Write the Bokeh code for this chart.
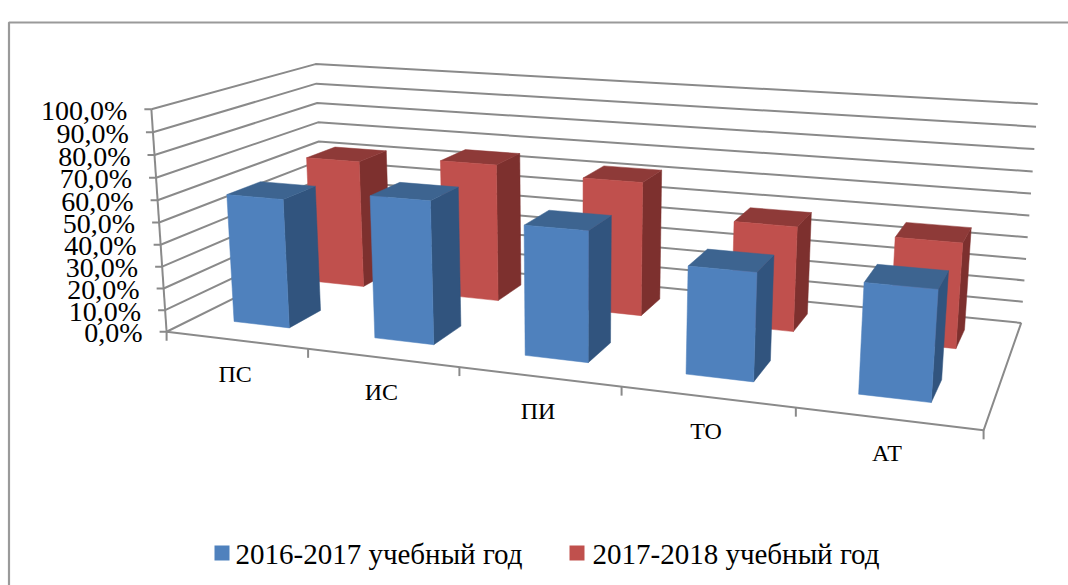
import numpy as np
from bokeh.plotting import figure
from bokeh.models import Range1d
from bokeh.core.properties import value
from bokeh.embed import file_html
from bokeh.resources import INLINE

categories = ["ПС", "ИС", "ПИ", "ТО", "АТ"]
series_names = ["2016-2017 учебный год", "2017-2018 учебный год"]
values_2016 = [59.0, 64.0, 57.0, 46.0, 46.0]
values_2017 = [62.0, 65.5, 62.5, 48.0, 47.0]
value_ticks = [0, 10, 20, 30, 40, 50, 60, 70, 80, 90, 100]
value_labels = ["0,0%", "10,0%", "20,0%", "30,0%", "40,0%", "50,0%",
                "60,0%", "70,0%", "80,0%", "90,0%", "100,0%"]

# Camera: where the corners of the chart's box fall on the page
box = np.array([[0, 0, 0], [0, 0, 100], [0, 1, 0], [0, 1, 100],
                [1, 0, 0], [1, 1, 0], [1, 1, 100]], float)
page = np.array([[167, 330], [150, 109], [322, 255], [316, 63],
                 [983, 431], [1021, 321], [1037, 104]], float)
rows = []
for (a, b, c), (u, v) in zip(box, page):
    rows.append([a, b, c, 1, 0, 0, 0, 0, -u*a, -u*b, -u*c, -u])
    rows.append([0, 0, 0, 0, a, b, c, 1, -v*a, -v*b, -v*c, -v])
camera = np.linalg.svd(np.array(rows))[2][-1].reshape(3, 4)


def project(a, b, c):
    h = camera @ np.array([a, b, c, 1.0])
    return h[0] / h[2], h[1] / h[2]


def poly(pts):
    xy = [project(*q) for q in pts]
    return [q[0] for q in xy], [q[1] for q in xy]


p = figure(width=1068, height=585, output_backend="svg", toolbar_location=None,
           x_range=Range1d(0, 1068), y_range=Range1d(585, 0),
           min_border=0, outline_line_color=None, background_fill_color="white",
           border_fill_color="white")
p.axis.visible = False
p.grid.visible = False

GRID = "#8a8a8a"
# outer frame of the chart area
p.line([8.5, 8.5, 1068], [585, 22, 22], line_color="#9a9a9a", line_width=2.2)

# gridlines on the side and back walls
xs, ys = [], []
for t in value_ticks:
    a = poly([(0, 0, t), (0, 1, t), (1, 1, t)])
    xs.append(a[0]); ys.append(a[1])
# floor and value axis
for pts in ([(0, 0, 0), (1, 0, 0), (1, 1, 0)], [(0, 0, 0), (0, 0, 100)]):
    a = poly(pts)
    xs.append(a[0]); ys.append(a[1])
# ticks
for t in value_ticks:
    u, v = project(0, 0, t)
    xs.append([u - 7, u]); ys.append([v, v])
for i in range(len(categories) + 1):
    u, v = project(i / len(categories), 0, 0)
    xs.append([u, u]); ys.append([v, v + 9])
p.multi_line(xs, ys, line_color=GRID, line_width=2)

# tick labels
lx, ly = [], []
for t in value_ticks:
    u, v = project(0, 0, t)
    lx.append(u - 24); ly.append(v + 1)
p.text(lx, ly, text=value_labels, text_font=value("Liberation Serif"), text_font_size="28px",
       text_align="right", text_baseline="middle", text_color="#000000")
cx, cy = [], []
for i in range(len(categories)):
    u, v = project((i + 0.5) / len(categories), 0, 0)
    cx.append(u - 1); cy.append(v + 34)
p.text(cx, cy, text=categories, text_font=value("Liberation Serif"), text_font_size="24px",
       text_align="center", text_baseline="middle", text_color="#000000")


def bars(vals, d0, d1, front, side, top):
    n = len(vals)
    for i, val in enumerate(vals):
        x0, x1 = (i + 0.28) / n, (i + 0.68) / n
        fs = [
            ([(x1, d0, 0), (x1, d1, 0), (x1, d1, val), (x1, d0, val)], side),
            ([(x0, d0, val), (x1, d0, val), (x1, d1, val), (x0, d1, val)], top),
            ([(x0, d0, 0), (x1, d0, 0), (x1, d0, val), (x0, d0, val)], front),
        ]
        for pts, col in fs:
            u, v = poly(pts)
            p.patch(u, v, fill_color=col, line_color=col, line_width=0.5)


bars(values_2017, 0.665, 0.865, "#C0504D", "#7D302E", "#8E3A38")
bars(values_2016, 0.165, 0.365, "#4F81BD", "#31547E", "#3D6490")

# legend
p.quad(left=[214, 569], right=[229, 584], top=[545, 545], bottom=[560, 560],
       fill_color=["#4F81BD", "#C0504D"], line_color=None)
p.text([235, 592], [553, 553], text=series_names, text_font=value("Liberation Serif"),
       text_font_size="29px", text_baseline="middle", text_color="#000000")

open("out.html", "w").write(file_html(p, INLINE))
